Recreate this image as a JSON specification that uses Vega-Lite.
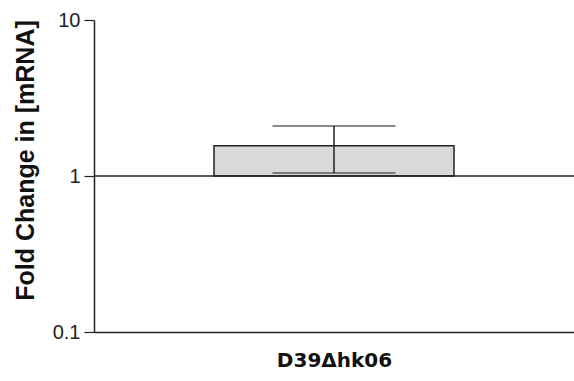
{
  "$schema": "https://vega.github.io/schema/vega-lite/v6.json",
  "autosize": "none",
  "width": 480,
  "height": 312,
  "padding": {"left": 94, "top": 20, "right": 0, "bottom": 49},
  "background": "white",
  "config": {
    "view": {"stroke": null},
    "font": "Liberation Sans",
    "axisY": {
      "grid": false,
      "domainColor": "#222", "domainWidth": 1.5,
      "tickColor": "#222", "tickSize": 10, "tickWidth": 1.2,
      "labelFont": "Liberation Sans", "labelFontSize": 20, "labelColor": "#222", "labelPadding": 4,
      "titleFont": "Liberation Sans", "titleFontSize": 25, "titleFontWeight": "bold", "titleColor": "#111",
      "titlePadding": 14, "titleY": 140
    },
    "axisX": {
      "labels": false, "ticks": false,
      "domainColor": "#222", "domainWidth": 1.5,
      "titleFont": "DejaVu Sans", "titleFontSize": 20, "titleFontWeight": "bold",
      "titleColor": "#111", "titlePadding": 18
    }
  },
  "data": {"values": [{"strain": "D39Δhk06", "fold": 1.56, "base": 1, "lower": 1.045, "upper": 2.09}]},
  "encoding": {
    "x": {
      "field": "strain", "type": "nominal",
      "scale": {"paddingInner": 0.5, "paddingOuter": 0.25},
      "axis": {"title": "D39Δhk06"}
    }
  },
  "layer": [
    {
      "mark": {"type": "bar", "fill": "#d9d9d9", "stroke": "#222", "strokeWidth": 1.5},
      "encoding": {
        "y": {
          "field": "fold", "type": "quantitative",
          "scale": {"type": "log", "domain": [0.1, 10]},
          "axis": {"title": "Fold Change in [mRNA]", "values": [0.1, 1, 10], "format": "~g"}
        },
        "y2": {"field": "base"}
      }
    },
    {
      "mark": {"type": "rule", "stroke": "#222", "strokeWidth": 1.5},
      "encoding": {"y": {"datum": 1, "type": "quantitative"}, "x": {"value": 0}, "x2": {"value": 480}}
    },
    {
      "mark": {"type": "rule", "stroke": "#222", "strokeWidth": 1.5},
      "encoding": {"y": {"field": "lower", "type": "quantitative"}, "y2": {"field": "upper"}}
    },
    {
      "mark": {"type": "tick", "color": "#222", "size": 123, "thickness": 1.5, "orient": "horizontal"},
      "encoding": {"y": {"field": "upper", "type": "quantitative"}}
    },
    {
      "mark": {"type": "tick", "color": "#222", "size": 123, "thickness": 1.5, "orient": "horizontal"},
      "encoding": {"y": {"field": "lower", "type": "quantitative"}}
    }
  ]
}
